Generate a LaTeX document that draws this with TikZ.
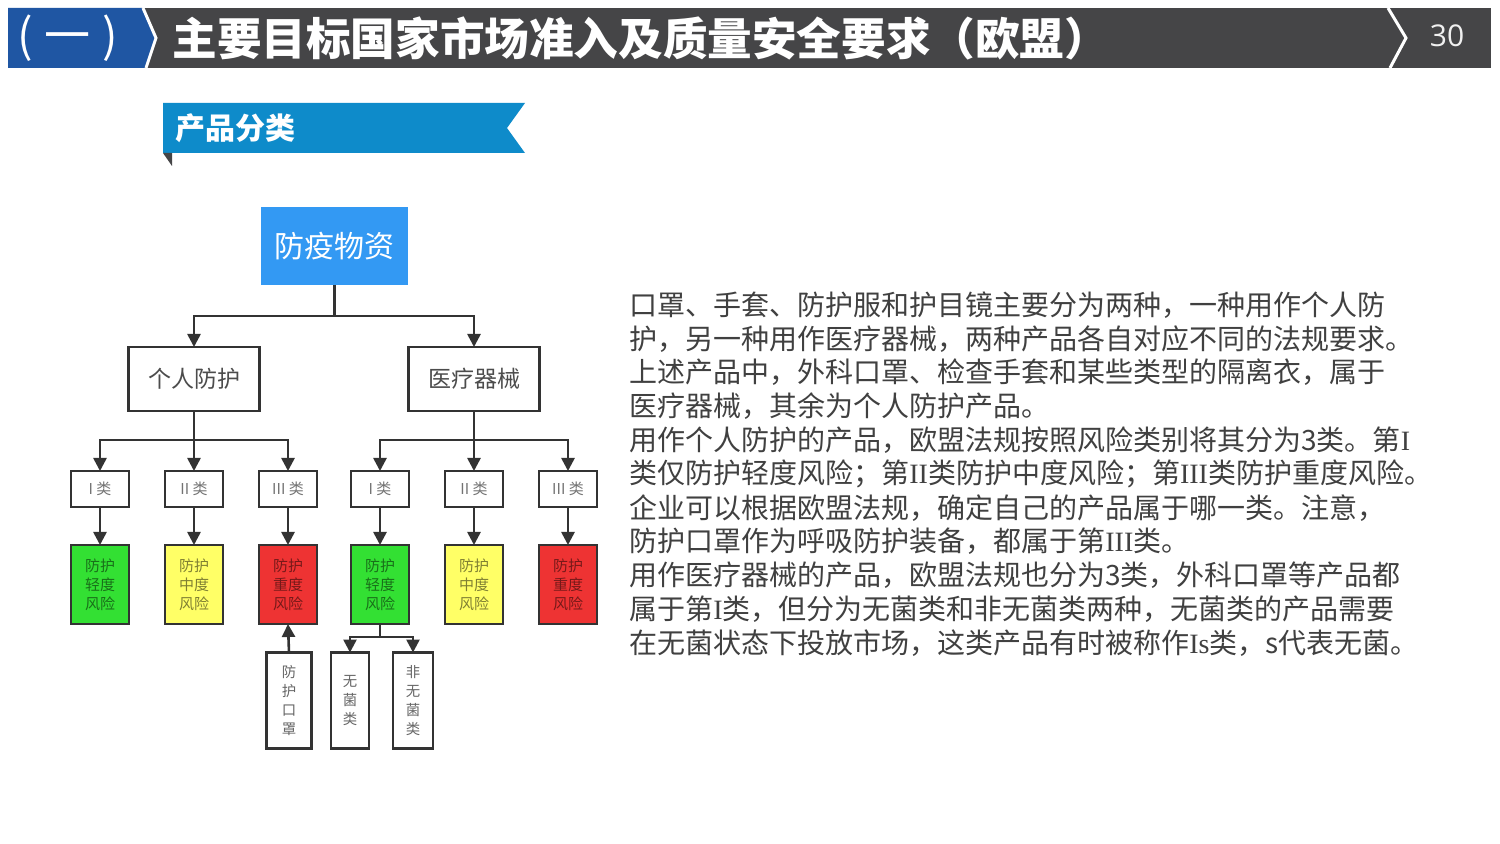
\documentclass[tikz,border=0pt]{standalone}
\usepackage{fontspec}
\setmainfont{Noto Sans CJK SC}
\newfontfamily\serf{Liberation Serif}
\newfontfamily\numf{Open Sans}
\usetikzlibrary{arrows.meta}
\definecolor{hdrblue}{HTML}{1F56A3}
\definecolor{hdrgray}{HTML}{454547}
\definecolor{bannerblue}{HTML}{0E8BCA}
\definecolor{topblue}{HTML}{3399F3}
\definecolor{lineclr}{HTML}{333333}
\definecolor{bodytxt}{HTML}{404040}
\definecolor{rgreen}{HTML}{33E033}
\definecolor{ryellow}{HTML}{FFFF66}
\definecolor{rred}{HTML}{EE3333}
\tikzset{
  boxbase/.style={draw=lineclr, line width=1.3pt, fill=white, inner sep=0pt, outer sep=0pt, align=center},
  topbox/.style={fill=topblue, inner sep=0pt, outer sep=0pt, minimum width=73.5pt, minimum height=39pt, text=white, font=\fontsize{15}{18}\selectfont},
  midbox/.style={boxbase, minimum width=65.5pt, minimum height=32pt, text=black!70, font=\fontsize{11.5}{14}\selectfont},
  clsbox/.style={boxbase, minimum width=29pt, minimum height=18pt, text=black!55, font=\fontsize{7.5}{9}\selectfont},
  riskbox/.style={boxbase, minimum width=29pt, minimum height=39.5pt, text=black, text opacity=0.5, font=\fontsize{7.5}{9.5}\selectfont},
  vbox/.style={boxbase, minimum height=48pt, text=black!60, font=\fontsize{7.2}{9.5}\selectfont},
  conn/.style={draw=lineclr, line width=1.3pt, -{Triangle[length=6.5pt,width=6.5pt]}},
  plainline/.style={draw=lineclr, line width=1.3pt},
  bodyline/.style={anchor=west, inner sep=0pt, text=bodytxt, font=\fontsize{14}{17}\selectfont}
}
\begin{document}
\begin{tikzpicture}[x=0.5pt,y=-0.5pt]
\useasboundingbox (0,0) rectangle (1500,844);
\fill[white] (0,0) rectangle (1500,844);
% header
\fill[hdrgray] (8,8) rectangle (1491,68);
\fill[hdrblue] (8,8) -- (142,8) -- (155,38) -- (145,68) -- (8,68) -- cycle;
\draw[white, line width=1.5pt] (143,8) -- (156,38) -- (146,68);
\draw[white, line width=1.5pt] (1388,8) -- (1406,38) -- (1390,68);
\node[text=white, inner sep=0pt, font=\fontsize{23}{26}\selectfont] (sec) at (68,38) {(\hspace{6pt}一\hspace{6pt})};
\node[anchor=west, inner sep=0pt, text=white, font=\bfseries\fontsize{22.3}{25}\selectfont] (title) at (172,38) {主要目标国家市场准入及质量安全要求（欧盟）};
\node[inner sep=0pt, text=white!88!gray, font=\numf\fontsize{15}{18}\selectfont] (pg) at (1447,36) {30};
% banner
\fill[bannerblue] (163,103) -- (525,103) -- (507,128) -- (525,153) -- (163,153) -- cycle;
\fill[hdrgray] (163,153) -- (172,153) -- (172,166) -- cycle;
\node[anchor=west, inner sep=0pt, text=white, font=\bfseries\fontsize{15}{18}\selectfont] (ban) at (175,128) {产品分类};
% tree
\node[topbox] (root) at (334.5,246) {防疫物资};
\node[midbox] (pp) at (194,379) {个人防护};
\node[midbox] (md) at (474,379) {医疗器械};
\node[clsbox] (c1) at (100,489) {I 类};
\node[clsbox] (c2) at (194,489) {II 类};
\node[clsbox] (c3) at (288,489) {III 类};
\node[clsbox] (c4) at (380,489) {I 类};
\node[clsbox] (c5) at (474,489) {II 类};
\node[clsbox] (c6) at (568,489) {III 类};
\node[riskbox, fill=rgreen] (r1) at (100,584.5) {防护\\轻度\\风险};
\node[riskbox, fill=ryellow] (r2) at (194,584.5) {防护\\中度\\风险};
\node[riskbox, fill=rred] (r3) at (288,584.5) {防护\\重度\\风险};
\node[riskbox, fill=rgreen] (r4) at (380,584.5) {防护\\轻度\\风险};
\node[riskbox, fill=ryellow] (r5) at (474,584.5) {防护\\中度\\风险};
\node[riskbox, fill=rred] (r6) at (568,584.5) {防护\\重度\\风险};
\node[vbox, minimum width=22.5pt] (mask) at (289,700.5) {防\\护\\口\\罩};
\node[vbox, minimum width=19pt] (st) at (350,700.5) {无\\菌\\类};
\node[vbox, minimum width=20pt] (nst) at (413,700.5) {非\\无\\菌\\类};
% connectors
\coordinate (j0) at (334.5,316);
\coordinate (j1) at (194,440);
\coordinate (j2) at (474,440);
\coordinate (j3) at (380,637);
\draw[plainline] (root.south) -- (j0);
\draw[conn] (j0) -| (pp.north);
\draw[conn] (j0) -| (md.north);
\draw[conn] (pp.south) -- (c2.north);
\draw[conn] (j1) -| (c1.north);
\draw[conn] (j1) -| (c3.north);
\draw[conn] (md.south) -- (c5.north);
\draw[conn] (j2) -| (c4.north);
\draw[conn] (j2) -| (c6.north);
\draw[conn] (c1.south) -- (r1.north);
\draw[conn] (c2.south) -- (r2.north);
\draw[conn] (c3.south) -- (r3.north);
\draw[conn] (c4.south) -- (r4.north);
\draw[conn] (c5.south) -- (r5.north);
\draw[conn] (c6.south) -- (r6.north);
\draw[conn] (mask.north) -- (r3.south);
\draw[plainline] (r4.south) -- (j3);
\draw[conn] (j3) -| (st.north);
\draw[conn] (j3) -| (nst.north);
% body text
\node[bodyline] (t1) at (629,305.0) {口罩、手套、防护服和护目镜主要分为两种，一种用作个人防};
\node[bodyline] (t2) at (629,338.8) {护，另一种用作医疗器械，两种产品各自对应不同的法规要求。};
\node[bodyline] (t3) at (629,372.6) {上述产品中，外科口罩、检查手套和某些类型的隔离衣，属于};
\node[bodyline] (t4) at (629,406.4) {医疗器械，其余为个人防护产品。};
\node[bodyline] (t5) at (629,440.2) {用作个人防护的产品，欧盟法规按照风险类别将其分为3类。第{\serf I}};
\node[bodyline] (t6) at (629,474.0) {类仅防护轻度风险；第{\serf II}类防护中度风险；第{\serf III}类防护重度风险。};
\node[bodyline] (t7) at (629,507.8) {企业可以根据欧盟法规，确定自己的产品属于哪一类。注意，};
\node[bodyline] (t8) at (629,541.6) {防护口罩作为呼吸防护装备，都属于第{\serf III}类。};
\node[bodyline] (t9) at (629,575.4) {用作医疗器械的产品，欧盟法规也分为3类，外科口罩等产品都};
\node[bodyline] (t10) at (629,609.2) {属于第{\serf I}类，但分为无菌类和非无菌类两种，无菌类的产品需要};
\node[bodyline] (t11) at (629,643.0) {在无菌状态下投放市场，这类产品有时被称作{\serf Is}类，s代表无菌。};
\end{tikzpicture}
\end{document}
